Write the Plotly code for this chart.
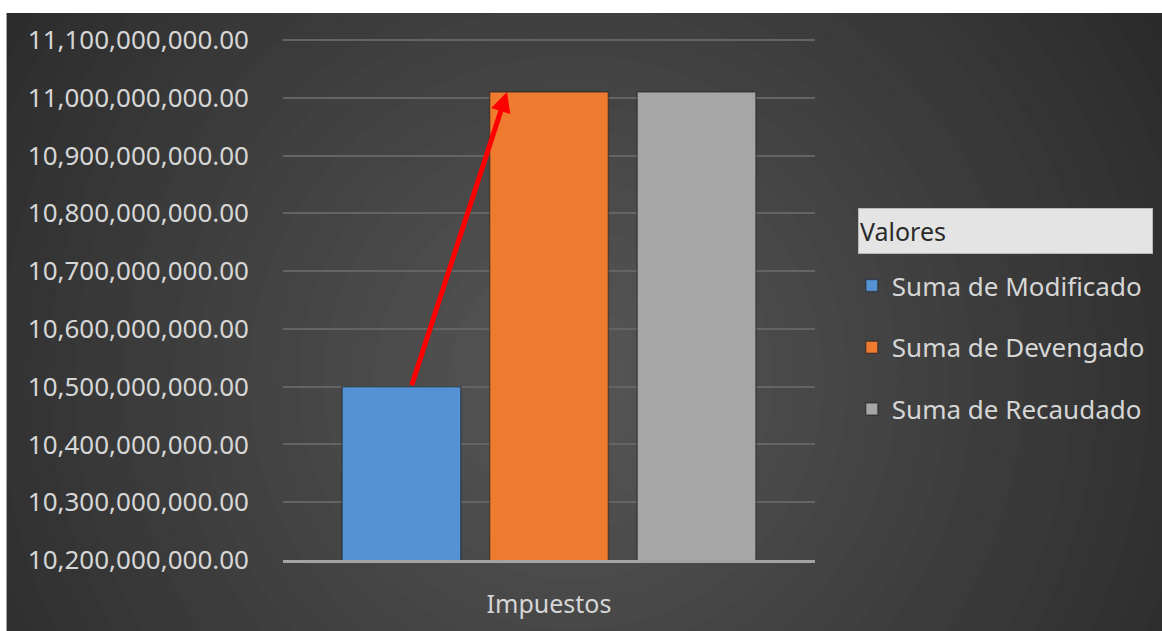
import plotly.graph_objects as go

# ---- data ----
categories = ["Impuestos"]
series_names = ["Suma de Modificado", "Suma de Devengado", "Suma de Recaudado"]
modificado = [10_500_000_000]
devengado = [11_010_000_000]
recaudado = [11_010_000_000]
y_ticks = [10_200_000_000 + i * 100_000_000 for i in range(10)]
y_tick_labels = [f"{v:,.2f}" for v in y_ticks]
legend_title = "Valores"

colors = ["#5592d3", "#ee7b30", "#a6a6a6"]
W, H = 1162, 631
L, R, T, B = 283, 344, 38, 71
PW, PH = W - L - R, H - T - B
FONT = "Noto Sans"
TXT = "#d6d6d6"

def px(xp):
    return (xp - L) / PW

def py(yp):
    return (H - B - yp) / PH

fig = go.Figure()
for name, vals, c in zip(series_names, [modificado, devengado, recaudado], colors):
    fig.add_trace(go.Bar(
        x=categories, y=vals, name=name, legendgroup=name,
        marker=dict(color=c, line=dict(color="rgba(30,30,30,0.5)", width=1.5)),
    ))

shapes = []
# background
shapes.append(dict(type="rect", xref="paper", yref="paper", x0=px(-20), x1=px(W + 20), y0=py(H + 20), y1=py(-20),
                   fillcolor="#2b2b2b", line=dict(width=0), layer="below"))
cx, cy = 575, 380
for r in range(900, 0, -25):
    lv = int(max(40, min(88, 88 - 0.064 * r)))
    col = f"rgb({lv},{lv},{lv})"
    shapes.append(dict(type="circle", xref="paper", yref="paper", xsizemode="pixel", ysizemode="pixel",
                       xanchor=px(cx), yanchor=py(cy), x0=-r, x1=r, y0=-r, y1=r,
                       fillcolor=col, line=dict(width=0), layer="below"))
# white frame (top, left)
for (a, b_, c_, d) in [(-20, W + 20, -20, 13), (-20, 5, -20, H + 20)]:
    shapes.append(dict(type="rect", xref="paper", yref="paper", x0=px(a), x1=px(b_), y0=py(d), y1=py(c_),
                       fillcolor="white", line=dict(width=0), layer="below"))

ymin = 10_200_000_000
ymax = 10_200_000_000 + 100_000_000 * (PH / 57.78)

fig.update_layout(
    width=W, height=H,
    margin=dict(l=L, r=R, t=T, b=B),
    paper_bgcolor="#2b2b2b", plot_bgcolor="rgba(0,0,0,0)",
    barmode="group", bargap=0.168, bargroupgap=0.196,
    shapes=shapes,
    font=dict(family=FONT, color=TXT, size=26),
    showlegend=True,
    legend=dict(x=px(855), xanchor="left", y=py(262), yanchor="top",
                traceorder="grouped", tracegroupgap=25,
                font=dict(family=FONT, size=26, color=TXT), bgcolor="rgba(0,0,0,0)"),
    xaxis=dict(showgrid=False, showline=True, linecolor="#a3a3a3", linewidth=3, automargin=False,
               ticks="", ticklabelstandoff=20, tickfont=dict(size=25, color=TXT)),
    yaxis=dict(range=[ymin, ymax], tickvals=y_ticks, ticktext=y_tick_labels, automargin=False,
               showgrid=True, gridcolor="#646464", gridwidth=1.5, zeroline=False,
               ticks="", ticklabelstandoff=33, tickfont=dict(size=26, color=TXT)),
    annotations=[
        dict(text=legend_title, xref="paper", yref="paper", x=px(861), y=py(231),
             xanchor="left", yanchor="middle", showarrow=False, align="left",
             width=291, height=42, bgcolor="#e4e4e4", bordercolor="#b8b8b8", borderwidth=1,
             font=dict(family=FONT, size=25, color="#2a2a2a")),
        dict(text="", x=-0.079, y=devengado[0], xref="x", yref="y",
             ax=-0.259, ay=modificado[0], axref="x", ayref="y",
             showarrow=True, arrowhead=2, arrowsize=0.8, arrowwidth=5, arrowcolor="#ff0000",
             standoff=0, startstandoff=0),
    ],
)

fig.write_html("out.html", config={"displayModeBar": False},
               post_script="document.body.style.margin='0';document.body.style.overflow='hidden';document.body.style.background='#2b2b2b';")
